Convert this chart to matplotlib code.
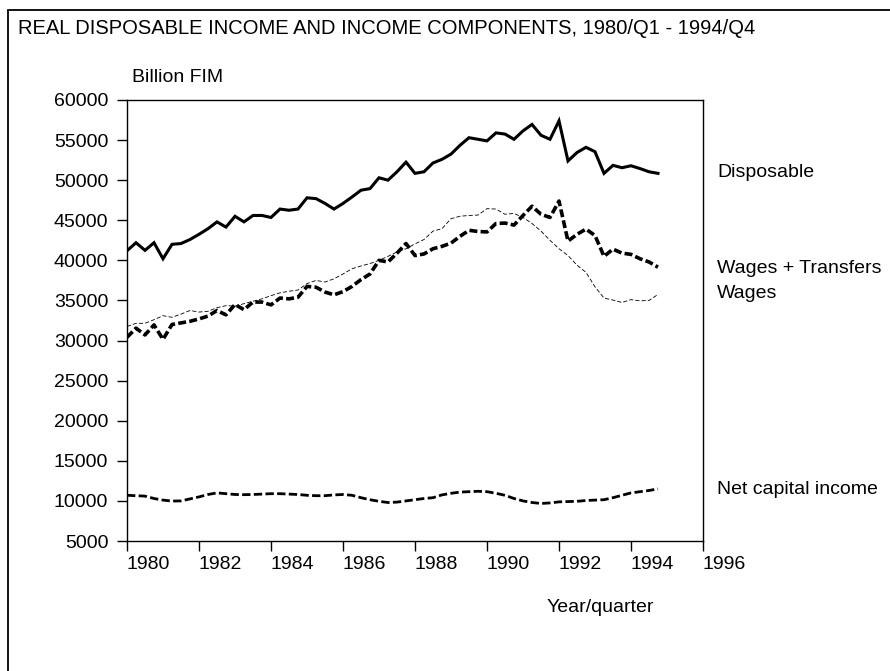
import numpy as np
import matplotlib.pyplot as plt
from matplotlib.patches import Rectangle

plt.rcParams['font.family'] = ['Liberation Sans', 'DejaVu Sans']

# quarterly observations 1980/Q1 - 1994/Q4
quarters = np.arange(1980, 1995, 0.25)

disposable = [41200, 42200, 41250, 42200, 40200, 42000, 42100, 42600, 43250, 43950,
              44800, 44150, 45500, 44800, 45600, 45600, 45350, 46400, 46250, 46400,
              47800, 47700, 47100, 46400, 47100, 47900, 48750, 48950, 50300, 50000,
              51050, 52250, 50850, 51050, 52150, 52600, 53250, 54350, 55300, 55100,
              54900, 55900, 55750, 55100, 56150, 56950, 55600, 55100, 57400, 52400,
              53450, 54100, 53550, 50850, 51850, 51550, 51800, 51450, 51050, 50850]

wages_transfers = [30400, 31550, 30700, 31950, 30150, 32000, 32200, 32400, 32700, 33050,
                   33750, 33200, 34500, 33850, 34800, 34800, 34450, 35300, 35200, 35400,
                   36750, 36650, 36050, 35700, 36100, 36750, 37600, 38300, 40000, 39800,
                   40900, 42100, 40600, 40800, 41450, 41750, 42150, 43000, 43750, 43600,
                   43550, 44600, 44650, 44400, 45600, 46750, 45750, 45350, 47400, 42400,
                   43250, 43900, 43100, 40500, 41400, 40900, 40750, 40200, 39800, 39150]

wages = [31750, 32150, 32150, 32600, 33100, 32900, 33300, 33750, 33550, 33650,
         34100, 34350, 34300, 34600, 34900, 35200, 35600, 35950, 36150, 36300,
         37100, 37500, 37300, 37700, 38300, 38950, 39300, 39600, 40000, 40500,
         41050, 41450, 42050, 42600, 43650, 43950, 45200, 45500, 45600, 45650,
         46450, 46400, 45750, 45850, 45350, 44600, 43650, 42500, 41450, 40600,
         39400, 38500, 36700, 35300, 35050, 34750, 35100, 34950, 35000, 35750]

net_capital = [10700, 10650, 10600, 10300, 10100, 9980, 10000, 10250, 10500, 10800,
               11000, 10900, 10800, 10780, 10800, 10850, 10900, 10900, 10850, 10800,
               10700, 10650, 10650, 10750, 10800, 10700, 10400, 10150, 9950, 9800,
               9850, 10000, 10150, 10300, 10400, 10750, 10950, 11100, 11150, 11200,
               11150, 10950, 10700, 10300, 10000, 9800, 9680, 9750, 9880, 9920,
               9950, 10050, 10100, 10150, 10400, 10700, 11000, 11150, 11300, 11500]

labels = ['Disposable', 'Wages + Transfers', 'Wages', 'Net capital income']
label_y = [51000, 39000, 35900, 11400]

xticks = list(range(1980, 1997, 2))
yticks = list(range(5000, 60001, 5000))

fig = plt.figure(figsize=(8.9, 6.71), dpi=100)
ax = fig.add_axes([127/890, 1 - 541/671, 576/890, 441/671])

# outer frame of the page
fig.patches.append(Rectangle((8/890, -0.1), 1.0, 1 - 10/671 + 0.1,
                             transform=fig.transFigure, fill=False,
                             edgecolor='black', linewidth=1.3))

ax.plot(quarters, disposable, color='black', linewidth=2.2, solid_joinstyle='miter')
ax.plot(quarters, wages_transfers, color='black', linewidth=2.6, dashes=(2.2, 0.9))
ax.plot(quarters, wages, color='black', linewidth=0.6, dashes=(5, 2.5))
ax.plot(quarters, net_capital, color='black', linewidth=2.0, dashes=(3, 1.2))

ax.set_xlim(1980, 1996)
ax.set_ylim(5000, 60000)
ax.set_xticks(xticks)
ax.set_yticks(yticks)
ax.tick_params(direction='out', length=7.5, width=1, labelsize=14)
ax.tick_params(axis='y', pad=6)
ax.tick_params(axis='x', pad=3)
for lab in ax.get_xticklabels():
    lab.set_horizontalalignment('left')
for s in ax.spines.values():
    s.set_linewidth(1)

for lab, yv in zip(labels, label_y):
    ax.text(1996.4, yv, lab, fontsize=14, va='center', ha='left', clip_on=False)

fig.text(18/890, 1 - 28/671, 'REAL DISPOSABLE INCOME AND INCOME COMPONENTS, 1980/Q1 - 1994/Q4',
         fontsize=14.5, va='center', ha='left')
fig.text(132/890, 1 - 78/671, 'Billion FIM', fontsize=14, va='center', ha='left')
fig.text(600/890, 1 - 608/671, 'Year/quarter', fontsize=14, va='center', ha='center')

fig.savefig('out.png', dpi=100)
